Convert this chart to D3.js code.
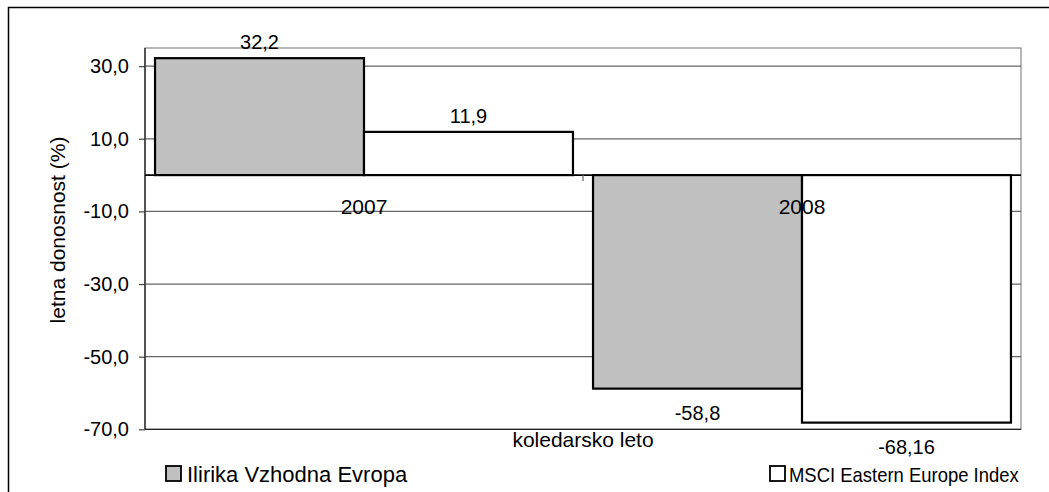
<!DOCTYPE html>
<html>
<head>
<meta charset="utf-8">
<script src="https://cdn.jsdelivr.net/npm/d3@7"></script>
<style>
  body { margin: 0; background: #fff; }
  svg text { font-family: "Liberation Sans", Arial, sans-serif; fill: #000; }
</style>
</head>
<body>
<div id="chart"></div>
<script>
var w = 1049;
var h = 492;

var categories = ["2007", "2008"];
var seriesNames = ["Ilirika Vzhodna Evropa", "MSCI Eastern Europe Index"];
var ilirika = [32.2, -58.8];
var msci = [11.9, -68.16];
var yTicks = [30, 10, -10, -30, -50, -70];
var fills = ["#c0c0c0", "#ffffff"];

var pLeft = 145, pRight = 1021, pTop = 48, pBottom = 429.3;

var loc = d3.formatLocale({decimal: ",", thousands: ".", grouping: [3], currency: ["", ""], minus: "-"});
var tickFmt = loc.format(".1f");
function valFmt(v) { return String(v).replace(".", ","); }

var svg = d3.select("#chart")
            .append("svg")
            .attr("width", w)
            .attr("height", h);

// outer frame (only top and left visible)
svg.append("path")
   .attr("d", "M8.5," + h + "V7.5H" + w)
   .attr("fill", "none")
   .attr("stroke", "#000")
   .attr("stroke-width", 1.5);

var y = d3.scaleLinear().domain([-70, 35]).range([pBottom, pTop]);
var x0 = d3.scaleBand().domain(categories).range([pLeft, pRight]).paddingInner(0).paddingOuter(0);
var x1 = d3.scaleBand().domain([0, 1]).range([0, x0.bandwidth()]).paddingOuter(0.048).paddingInner(0);

// plot area border
svg.append("rect")
   .attr("x", pLeft).attr("y", pTop)
   .attr("width", pRight - pLeft).attr("height", pBottom - pTop)
   .attr("fill", "none")
   .attr("stroke", "#888")
   .attr("stroke-width", 1.2);

// gridlines
svg.selectAll("line.grid")
   .data(yTicks)
   .enter()
   .append("line")
   .attr("class", "grid")
   .attr("x1", pLeft).attr("x2", pRight)
   .attr("y1", function(d) { return y(d); })
   .attr("y2", function(d) { return y(d); })
   .attr("stroke", function(d) { return d == -70 ? "#222" : "#666"; })
   .attr("stroke-width", 1.3);

// y axis
var yAxis = d3.axisLeft(y).tickValues(yTicks).tickSize(6).tickPadding(10).tickFormat(tickFmt);
var gy = svg.append("g").attr("transform", "translate(" + pLeft + ",0)").call(yAxis);
gy.select(".domain").remove();
gy.append("line").attr("x1", 0).attr("x2", 0).attr("y1", pTop).attr("y2", pBottom)
  .attr("stroke", "#333").attr("stroke-width", 1.5);
gy.selectAll(".tick line").attr("stroke", "#444").attr("stroke-width", 1.2);
gy.selectAll(".tick text")
  .attr("font-family", "Liberation Sans, Arial, sans-serif")
  .attr("font-size", "20px")
  .attr("fill", "#000");

// bars
var groups = svg.selectAll("g.cat")
   .data(categories)
   .enter()
   .append("g")
   .attr("class", "cat")
   .attr("transform", function(d) { return "translate(" + x0(d) + ",0)"; });

var seriesVals = [ilirika, msci];
groups.selectAll("rect")
   .data(function(d, i) { return [0, 1].map(function(s) { return {s: s, v: seriesVals[s][i]}; }); })
   .enter()
   .append("rect")
   .attr("x", function(d) { return x1(d.s); })
   .attr("width", x1.bandwidth())
   .attr("y", function(d) { return d.v > 0 ? y(d.v) : y(0); })
   .attr("height", function(d) { return Math.abs(y(d.v) - y(0)); })
   .attr("fill", function(d) { return fills[d.s]; })
   .attr("stroke", "#000")
   .attr("stroke-width", 2.2);

// zero axis
svg.append("line")
   .attr("x1", pLeft).attr("x2", pRight)
   .attr("y1", y(0)).attr("y2", y(0))
   .attr("stroke", "#000").attr("stroke-width", 1.6);

// category boundary tick
svg.append("line")
   .attr("x1", x0("2008")).attr("x2", x0("2008"))
   .attr("y1", y(0)).attr("y2", y(0) + 6)
   .attr("stroke", "#666").attr("stroke-width", 1.2);

// category labels
svg.selectAll("text.catlab")
   .data(categories)
   .enter()
   .append("text")
   .attr("class", "catlab")
   .text(function(d) { return d; })
   .attr("text-anchor", "middle")
   .attr("x", function(d) { return x0(d) + x0.bandwidth() / 2; })
   .attr("y", 214)
   .attr("font-size", "21px");

// value labels
groups.selectAll("text.val")
   .data(function(d, i) { return [0, 1].map(function(s) { return {s: s, v: seriesVals[s][i]}; }); })
   .enter()
   .append("text")
   .attr("class", "val")
   .text(function(d) { return valFmt(d.v); })
   .attr("text-anchor", "middle")
   .attr("x", function(d) { return x1(d.s) + x1.bandwidth() / 2; })
   .attr("y", function(d) { return d.v > 0 ? y(d.v) - 9 : y(d.v) + 31; })
   .attr("font-size", "20px");

// axis titles
svg.append("text")
   .text("letna donosnost (%)")
   .attr("text-anchor", "middle")
   .attr("transform", "translate(65,230) rotate(-90)")
   .attr("font-size", "21px");

svg.append("text")
   .text("koledarsko leto")
   .attr("text-anchor", "middle")
   .attr("x", 583).attr("y", 447)
   .attr("font-size", "21px");

// legend
var legX = [166, 770];
var legSize = [22, 20.5];
var leg = svg.selectAll("g.leg")
   .data(seriesNames)
   .enter()
   .append("g")
   .attr("class", "leg")
   .attr("transform", function(d, i) { return "translate(" + legX[i] + ",466)"; });
leg.append("rect")
   .attr("width", 15).attr("height", 15)
   .attr("fill", function(d, i) { return fills[i]; })
   .attr("stroke", "#000").attr("stroke-width", 1.8);
leg.append("text")
   .text(function(d) { return d; })
   .attr("x", function(d, i) { return i == 0 ? 21 : 19; })
   .attr("y", 16)
   .attr("font-size", function(d, i) { return legSize[i] + "px"; })
   .attr("transform", function(d, i) { return i == 0 ? null : "translate(19,0) scale(0.9,1) translate(-19,0)"; });
</script>
</body>
</html>
